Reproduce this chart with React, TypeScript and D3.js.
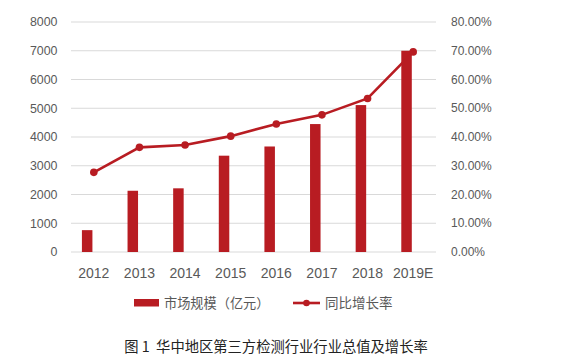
import React from 'react';
import * as d3 from 'd3';

// 数据
const years = ['2012', '2013', '2014', '2015', '2016', '2017', '2018', '2019E'];
const marketSize = [760, 2130, 2215, 3350, 3670, 4450, 5110, 7000]; // 亿元
const growthRate = [27.7, 36.4, 37.2, 40.3, 44.5, 47.7, 53.4, 69.6]; // %
const leftTicks = [0, 1000, 2000, 3000, 4000, 5000, 6000, 7000, 8000];
const rightTicks = [0, 10, 20, 30, 40, 50, 60, 70, 80];
const seriesNames = ['市场规模（亿元）', '同比增长率'];
const caption = '图 1  华中地区第三方检测行业行业总值及增长率';

const W = 576;
const H = 362;
const RED = '#b81c22';
const TXT = '#595959';
const FONT = '"Liberation Sans", Arial, sans-serif';
const CJK = '"Noto Sans CJK SC", "Noto Sans", sans-serif';

const App = () => {
  const plot = { left: 71, right: 436, top: 22, bottom: 252 };

  const x = d3.scaleBand().domain(years).range([plot.left, plot.right]).padding(0);
  // excel 簇状柱形：第二列为空，所以柱子偏左
  const x1 = d3
    .scaleBand()
    .domain(['size', 'blank'])
    .range([-11.9, 11.9])
    .paddingInner(0.21);

  const yL = d3.scaleLinear().domain([0, 8000]).range([plot.bottom, plot.top]);
  const yR = d3.scaleLinear().domain([0, 80]).range([plot.bottom, plot.top]);

  const cx = (d: string) => (x(d) as number) + x.bandwidth() / 2;

  const line = d3
    .line<number>()
    .x((_, i) => cx(years[i]))
    .y((d) => yR(d));

  return (
    <svg
      width={W}
      height={H}
      style={{ position: 'absolute', left: 0, top: 0, background: '#fff' }}
    >
      {/* 网格线 */}
      {leftTicks.map((t) => (
        <line
          key={'g' + t}
          x1={plot.left}
          x2={plot.right}
          y1={yL(t)}
          y2={yL(t)}
          stroke="#d9d9d9"
          strokeWidth={1}
        />
      ))}

      {/* 左轴 */}
      {leftTicks.map((t) => (
        <text
          key={'l' + t}
          x={57.5}
          y={yL(t)}
          dy="0.35em"
          textAnchor="end"
          fontFamily={FONT}
          fontSize={12.4}
          fill={TXT}
        >
          {t}
        </text>
      ))}

      {/* 右轴 */}
      {rightTicks.map((t) => (
        <text
          key={'r' + t}
          x={451}
          y={yR(t)}
          dy="0.35em"
          textAnchor="start"
          fontFamily={FONT}
          fontSize={12}
          fill={TXT}
        >
          {t.toFixed(2) + '%'}
        </text>
      ))}

      {/* x 轴 */}
      {years.map((d) => (
        <text
          key={'x' + d}
          x={cx(d)}
          y={273}
          dy="0.35em"
          textAnchor="middle"
          fontFamily={FONT}
          fontSize={14}
          fill={TXT}
        >
          {d}
        </text>
      ))}

      {/* 柱子 */}
      {marketSize.map((v, i) => (
        <rect
          key={'b' + i}
          x={cx(years[i]) + (x1('size') as number)}
          y={yL(v)}
          width={x1.bandwidth()}
          height={yL(0) - yL(v)}
          fill={RED}
        />
      ))}

      {/* 折线 */}
      <path d={line(growthRate) || ''} fill="none" stroke={RED} strokeWidth={2.6} />
      {growthRate.map((v, i) => (
        <circle key={'p' + i} cx={cx(years[i])} cy={yR(v)} r={3.8} fill={RED} />
      ))}

      {/* 图例 */}
      <rect x={134} y={299} width={25} height={7.5} fill={RED} />
      <text x={164} y={303} dy="0.35em" fontFamily={CJK} fontSize={13.2} fill={TXT}>
        {seriesNames[0]}
      </text>
      <line x1={293} x2={320} y1={303} y2={303} stroke={RED} strokeWidth={2.6} />
      <circle cx={306.5} cy={303} r={3.3} fill={RED} />
      <text x={325} y={303} dy="0.35em" fontFamily={CJK} fontSize={13.5} fill={TXT}>
        {seriesNames[1]}
      </text>

      {/* 标题 */}
      <text
        x={276}
        y={347}
        dy="0.35em"
        textAnchor="middle"
        fontFamily={CJK}
        fontSize={14.3}
        fill="#222"
        style={{ whiteSpace: 'pre' }}
      >
        {caption}
      </text>
    </svg>
  );
};

export default App;
